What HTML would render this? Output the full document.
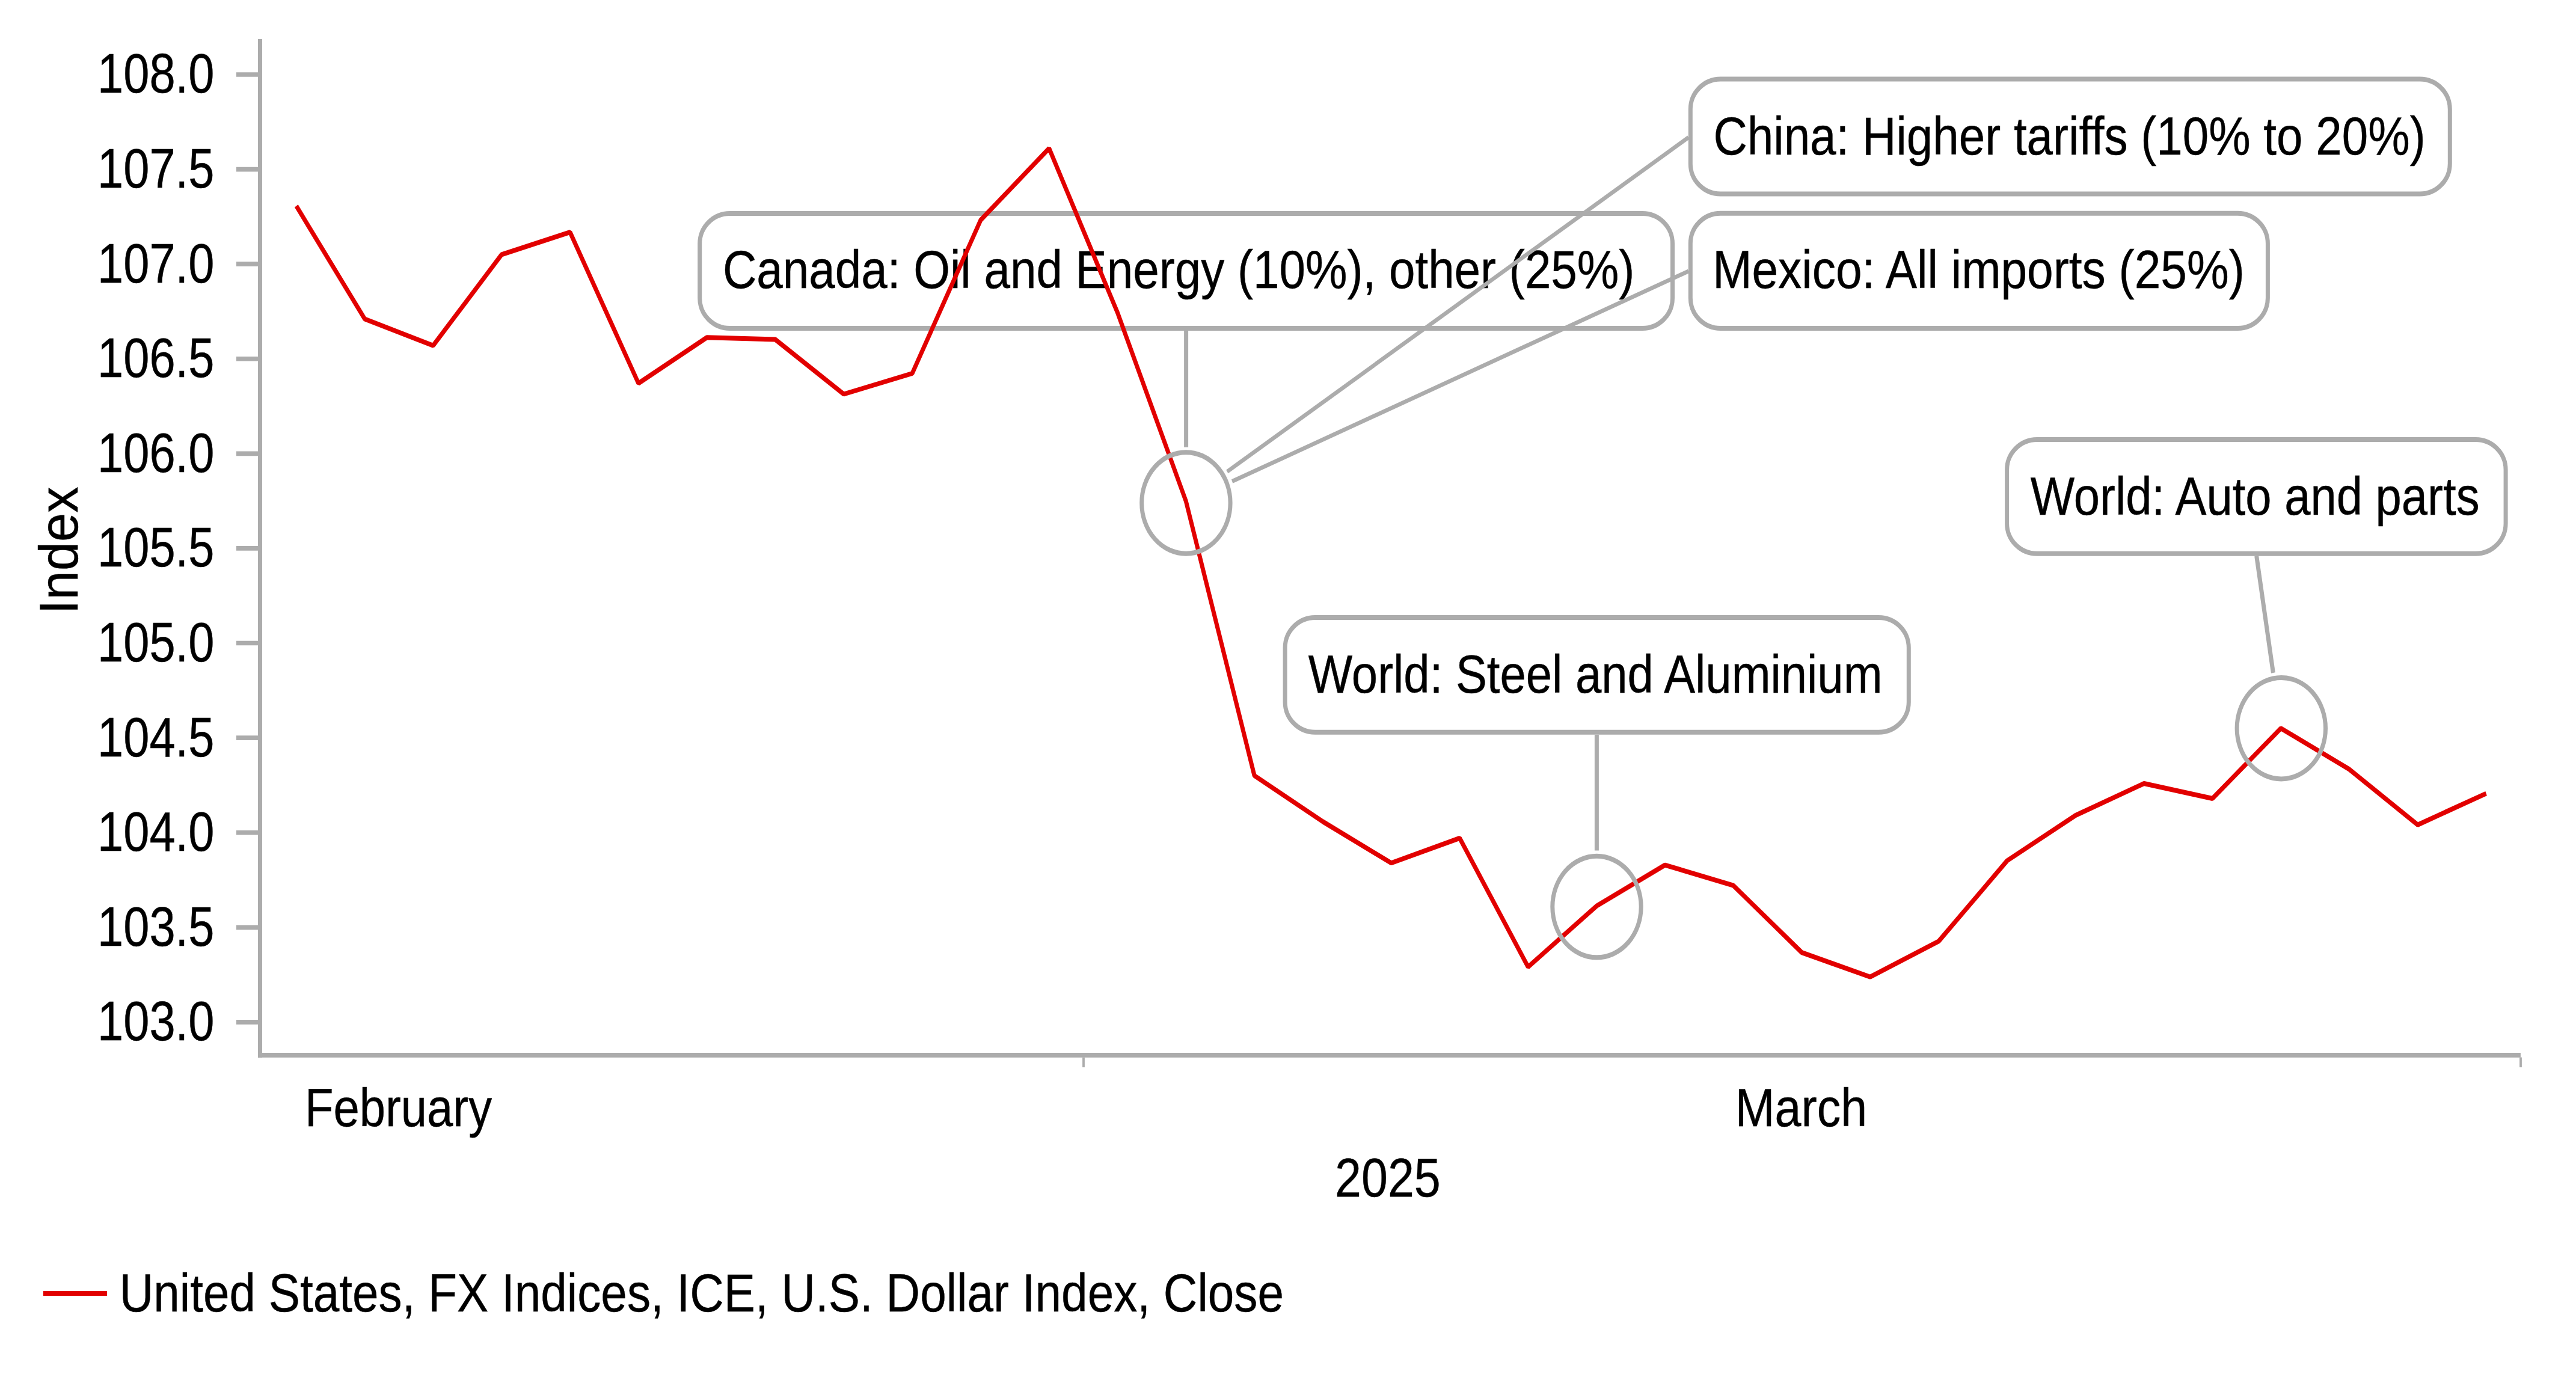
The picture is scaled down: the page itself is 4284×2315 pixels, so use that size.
<!DOCTYPE html>
<html lang="en"><head><meta charset="utf-8"><title>U.S. Dollar Index</title>
<style>html,body{margin:0;padding:0;background:#fff}svg{display:block}text{font-family:"Liberation Sans",Arial,sans-serif;fill:#000;stroke:#000;stroke-width:0.4px}</style></head><body>
<svg width="4284" height="2315" viewBox="0 0 4284 2315">
<rect width="4284" height="2315" fill="#fff"/>
<g transform="scale(1,1.14321)" font-size="78">
<g stroke="#ACACAC" fill="none">
<line x1="432.5" y1="56.94" x2="432.5" y2="1538.48" stroke-width="7"/>
<line x1="429" y1="1535.06" x2="4191.9" y2="1535.06" stroke-width="6.8"/>
<line x1="393" y1="108.47" x2="429.5" y2="108.47" stroke-width="6.7"/>
<line x1="393" y1="246.32" x2="429.5" y2="246.32" stroke-width="6.7"/>
<line x1="393" y1="384.16" x2="429.5" y2="384.16" stroke-width="6.7"/>
<line x1="393" y1="522.01" x2="429.5" y2="522.01" stroke-width="6.7"/>
<line x1="393" y1="659.86" x2="429.5" y2="659.86" stroke-width="6.7"/>
<line x1="393" y1="797.71" x2="429.5" y2="797.71" stroke-width="6.7"/>
<line x1="393" y1="935.56" x2="429.5" y2="935.56" stroke-width="6.7"/>
<line x1="393" y1="1073.41" x2="429.5" y2="1073.41" stroke-width="6.7"/>
<line x1="393" y1="1211.26" x2="429.5" y2="1211.26" stroke-width="6.7"/>
<line x1="393" y1="1349.1" x2="429.5" y2="1349.1" stroke-width="6.7"/>
<line x1="393" y1="1486.95" x2="429.5" y2="1486.95" stroke-width="6.7"/>
<line x1="1802.0" y1="1538.21" x2="1802.0" y2="1552.65" stroke-width="3.8"/>
<line x1="4192.0" y1="1538.21" x2="4192.0" y2="1552.65" stroke-width="3.8"/>
</g>
<text transform="translate(162.1,135.06) scale(1,1.035)" textLength="194.20" lengthAdjust="spacingAndGlyphs">108.0</text>
<text transform="translate(162.1,272.91) scale(1,1.035)" textLength="194.20" lengthAdjust="spacingAndGlyphs">107.5</text>
<text transform="translate(162.1,410.76) scale(1,1.035)" textLength="194.20" lengthAdjust="spacingAndGlyphs">107.0</text>
<text transform="translate(162.1,548.6) scale(1,1.035)" textLength="194.20" lengthAdjust="spacingAndGlyphs">106.5</text>
<text transform="translate(162.1,686.45) scale(1,1.035)" textLength="194.20" lengthAdjust="spacingAndGlyphs">106.0</text>
<text transform="translate(162.1,824.3) scale(1,1.035)" textLength="194.20" lengthAdjust="spacingAndGlyphs">105.5</text>
<text transform="translate(162.1,962.15) scale(1,1.035)" textLength="194.20" lengthAdjust="spacingAndGlyphs">105.0</text>
<text transform="translate(162.1,1100.0) scale(1,1.035)" textLength="194.20" lengthAdjust="spacingAndGlyphs">104.5</text>
<text transform="translate(162.1,1237.85) scale(1,1.035)" textLength="194.20" lengthAdjust="spacingAndGlyphs">104.0</text>
<text transform="translate(162.1,1375.7) scale(1,1.035)" textLength="194.20" lengthAdjust="spacingAndGlyphs">103.5</text>
<text transform="translate(162.1,1513.55) scale(1,1.035)" textLength="194.20" lengthAdjust="spacingAndGlyphs">103.0</text>
<text x="506.9" y="1638.19" textLength="311.15" lengthAdjust="spacingAndGlyphs">February</text>
<text x="2885.8" y="1638.37" textLength="219.24" lengthAdjust="spacingAndGlyphs">March</text>
<text transform="translate(2220.0,1740.71) scale(1,1.025)" textLength="175.78" lengthAdjust="spacingAndGlyphs">2025</text>
<line x1="71.9" y1="1881.46" x2="178.1" y2="1881.46" stroke="#E20000" stroke-width="7"/>
<text x="198.7" y="1907.61" textLength="1936.33" lengthAdjust="spacingAndGlyphs">United States, FX Indices, ICE, U.S. Dollar Index, Close</text>
<rect x="1163.7" y="310.53" width="1617.8" height="167.07" rx="50" ry="44" fill="none" stroke="#ACACAC" stroke-width="7"/>
<text x="1201.9" y="419.0" textLength="1516.49" lengthAdjust="spacingAndGlyphs">Canada: Oil and Energy (10%), other (25%)</text>
<rect x="2811.3" y="114.94" width="1263.0" height="167.16" rx="50" ry="44" fill="none" stroke="#ACACAC" stroke-width="7"/>
<text x="2849.4" y="224.89" textLength="1184.29" lengthAdjust="spacingAndGlyphs">China: Higher tariffs (10% to 20%)</text>
<rect x="2811.3" y="310.35" width="960.1" height="167.17" rx="50" ry="44" fill="none" stroke="#ACACAC" stroke-width="7"/>
<text x="2848.2" y="418.73" textLength="884.60" lengthAdjust="spacingAndGlyphs">Mexico: All imports (25%)</text>
<rect x="2137.1" y="898.35" width="1037.2" height="166.90" rx="50" ry="44" fill="none" stroke="#ACACAC" stroke-width="7"/>
<text x="2175.8" y="1007.69" textLength="954.71" lengthAdjust="spacingAndGlyphs">World: Steel and Aluminium</text>
<rect x="3337.6" y="639.43" width="829.5" height="165.93" rx="50" ry="44" fill="none" stroke="#ACACAC" stroke-width="7"/>
<text x="3376.8" y="749.21" textLength="746.74" lengthAdjust="spacingAndGlyphs">World: Auto and parts</text>
<polyline fill="none" stroke="#E20000" stroke-width="7" stroke-linejoin="bevel" points="492.8,299.68 606.6,464.04 720.4,502.71 834.2,370.36 948.0,337.73 1061.8,557.64 1175.6,490.9 1289.4,493.87 1403.2,573.39 1517.1,543.21 1630.9,320.15 1744.7,215.8 1858.5,454.86 1972.3,729.09 2086.1,1128.31 2199.9,1195.23 2313.7,1255.41 2427.5,1219.29 2541.3,1406.65 2655.1,1318.04 2768.9,1258.39 2882.7,1288.21 2996.5,1385.66 3110.3,1421.17 3224.1,1369.3 3338.0,1252.09 3451.8,1186.13 3565.6,1139.77 3679.4,1161.64 3793.2,1059.47 3907.0,1119.13 4020.8,1199.87 4134.6,1154.29"/>
<g stroke="#ACACAC" stroke-width="7" fill="none">
<line x1="1972.6" y1="481.1" x2="1972.6" y2="650.54" stroke-width="7"/>
<line x1="2040.8" y1="686.14" x2="2808.0" y2="199.88" stroke-width="6.1"/>
<line x1="2049.1" y1="700.31" x2="2808.0" y2="394.5" stroke-width="6.1"/>
<line x1="2655.4" y1="1068.83" x2="2655.4" y2="1237.31" stroke-width="7"/>
<line x1="3752.7" y1="808.86" x2="3780.4" y2="978.82" stroke-width="7"/>
<circle cx="1972.4" cy="731.62" r="73.7"/>
<circle cx="2655.5" cy="1319.18" r="73.7"/>
<circle cx="3793.8" cy="1059.47" r="73.7"/>
</g>
</g>
<text transform="translate(128.9,1013.8) rotate(-90) scale(0.963,1)" font-size="90" x="-8" y="0">Index</text>
</svg></body></html>
